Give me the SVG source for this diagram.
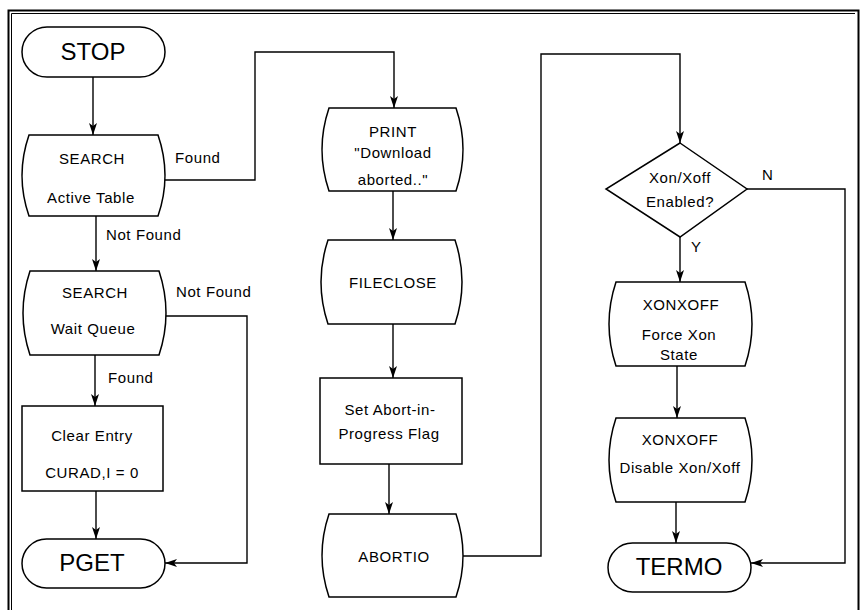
<svg xmlns="http://www.w3.org/2000/svg" width="862" height="610" viewBox="0 0 862 610">
<style>
.n{fill:#fff;stroke:#000;stroke-width:1.5}
.c{fill:none;stroke:#000;stroke-width:1.4}
.t{font-family:"Liberation Sans",Arial,sans-serif;font-size:15px;letter-spacing:0.6px;fill:#000;text-anchor:middle}
.b{font-family:"Liberation Sans",Arial,sans-serif;font-size:24px;fill:#000;text-anchor:middle}
.l{font-family:"Liberation Sans",Arial,sans-serif;font-size:15px;letter-spacing:0.6px;fill:#000}
</style>
<defs>
<marker id="a" viewBox="0 0 12 8" refX="12" refY="4" markerWidth="12" markerHeight="8" markerUnits="userSpaceOnUse" orient="auto">
<path d="M0,0 L12,4 L0,8 L3,4 z" fill="#000"/>
</marker>
</defs>
<rect width="862" height="610" fill="#fff"/>
<g id="frame" fill="none" stroke="#000">
<path d="M8.5,620 V10.5 H858.5 V620" stroke-width="2"/>
<path d="M11.5,620 V13.5 H855" stroke-width="1"/>
</g>
<g id="connectors" class="c">
<path d="M93,77 V135" marker-end="url(#a)"/>
<path d="M165,180 H255 V52 H394 V108" marker-end="url(#a)"/>
<path d="M96,216 V271" marker-end="url(#a)"/>
<path d="M166,316 H247 V563 H165" marker-end="url(#a)"/>
<path d="M95,355 V406" marker-end="url(#a)"/>
<path d="M96,491 V539" marker-end="url(#a)"/>
<path d="M393,191 V240" marker-end="url(#a)"/>
<path d="M393,324 V378" marker-end="url(#a)"/>
<path d="M389,464 V514" marker-end="url(#a)"/>
<path d="M463,556 H541 V54 H680 V143" marker-end="url(#a)"/>
<path d="M747,189 H845 V563 H751" marker-end="url(#a)"/>
<path d="M680,237 V282" marker-end="url(#a)"/>
<path d="M677,366 V418" marker-end="url(#a)"/>
<path d="M676,502 V543" marker-end="url(#a)"/>
</g>
<g id="labels">
<text class="l" x="175" y="163">Found</text>
<text class="l" x="106" y="240">Not Found</text>
<text class="l" x="176" y="297">Not Found</text>
<text class="l" x="108" y="383">Found</text>
<text class="l" x="762" y="180">N</text>
<text class="l" x="691" y="252">Y</text>
</g>
<g id="stop">
<rect class="n" x="22" y="27" width="143" height="50" rx="25"/>
<text class="b" x="93" y="60">STOP</text>
</g>
<g id="search-active">
<path class="n" d="M29,135 H158 Q172,175.5 158,216 H29 Q15,175.5 29,135 Z"/>
<text class="t" x="92" y="164">SEARCH</text>
<text class="t" x="91" y="203">Active Table</text>
</g>
<g id="search-wait">
<path class="n" d="M30,271 H159 Q173,313 159,355 H30 Q16,313 30,271 Z"/>
<text class="t" x="95" y="298">SEARCH</text>
<text class="t" x="93" y="334">Wait Queue</text>
</g>
<g id="clear-entry">
<rect class="n" x="22" y="406" width="141" height="85"/>
<text class="t" x="92" y="441">Clear Entry</text>
<text class="t" x="92" y="478">CURAD,I = 0</text>
</g>
<g id="pget">
<rect class="n" x="22" y="539" width="143" height="49" rx="24.5"/>
<text class="b" x="92" y="571">PGET</text>
</g>
<g id="print">
<path class="n" d="M329,108 H456 Q470,149.5 456,191 H329 Q315,149.5 329,108 Z"/>
<text class="t" x="393" y="137">PRINT</text>
<text class="t" x="393" y="158">"Download</text>
<text class="t" x="393" y="185">aborted.."</text>
</g>
<g id="fileclose">
<path class="n" d="M328,240 H455 Q469,282 455,324 H328 Q314,282 328,240 Z"/>
<text class="t" x="393" y="288">FILECLOSE</text>
</g>
<g id="set-abort">
<rect class="n" x="320" y="378" width="142" height="86"/>
<text class="t" x="390" y="415">Set Abort-in-</text>
<text class="t" x="389" y="439">Progress Flag</text>
</g>
<g id="abortio">
<path class="n" d="M329,514 H456 Q470,555.5 456,597 H329 Q315,555.5 329,514 Z"/>
<text class="t" x="394" y="562">ABORTIO</text>
</g>
<g id="xon-enabled">
<path class="n" d="M680,143 L747,189 L680,237 L606,189 Z"/>
<text class="t" x="680" y="183">Xon/Xoff</text>
<text class="t" x="680" y="207">Enabled?</text>
</g>
<g id="force-xon">
<path class="n" d="M616,282 H745 Q759,324 745,366 H616 Q602,324 616,282 Z"/>
<text class="t" x="681" y="310">XONXOFF</text>
<text class="t" x="679" y="340">Force Xon</text>
<text class="t" x="679" y="360">State</text>
</g>
<g id="disable-xon">
<path class="n" d="M616,418 H745 Q759,460 745,502 H616 Q602,460 616,418 Z"/>
<text class="t" x="680" y="445">XONXOFF</text>
<text class="t" x="680" y="473">Disable Xon/Xoff</text>
</g>
<g id="termo">
<rect class="n" x="608" y="543" width="143" height="49" rx="24.5"/>
<text class="b" x="679" y="575">TERMO</text>
</g>
</svg>
